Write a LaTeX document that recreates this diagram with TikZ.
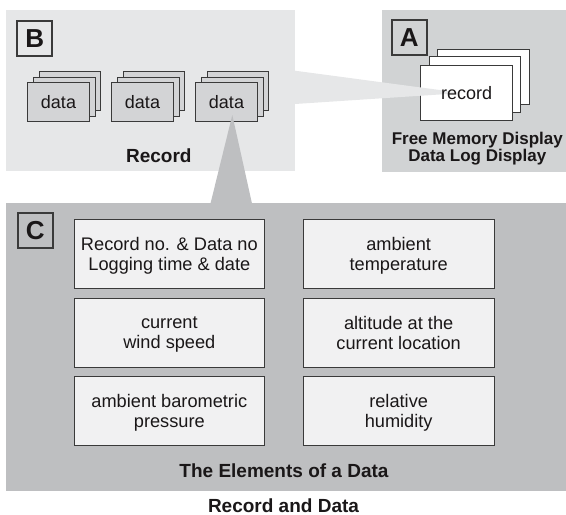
\documentclass[tikz,border=0pt]{standalone}
\usepackage{fontspec}
\setmainfont{Liberation Sans}
\definecolor{cB}{HTML}{E6E7E8}
\definecolor{cA}{HTML}{D1D3D4}
\definecolor{cC}{HTML}{BEBFC1}
\definecolor{cData}{HTML}{D3D4D6}
\definecolor{cEl}{HTML}{F1F1F2}
\definecolor{cLine}{HTML}{3A3A3A}
\definecolor{cText}{HTML}{1A1718}
\begin{document}
\begin{tikzpicture}[x=1pt,y=-1pt,
  every node/.style={inner sep=0pt, outer sep=0pt, text=cText},
  panel/.style={draw=none, anchor=north west},
  letterbox/.style={draw=cLine, line width=1.8pt, anchor=north west,
    minimum width=35pt, minimum height=35pt,
    font=\bfseries\fontsize{26}{28}\selectfont},
  databox/.style={draw=cLine, line width=0.9pt, fill=cData, anchor=north west,
    minimum width=61.6pt, minimum height=39pt,
    font=\fontsize{18}{20}\selectfont},
  recbox/.style={draw=cLine, line width=0.9pt, fill=white, anchor=north west,
    minimum width=91.7pt, minimum height=55.7pt},
  elbox/.style={draw=cLine, line width=0.9pt, fill=cEl, anchor=north west,
    minimum width=190.7pt, minimum height=68.7pt},
  eltext/.style={align=center, font=\fontsize{18.2}{20}\selectfont},
  plain/.style={font=\fontsize{18}{20}\selectfont},
  title/.style={font=\bfseries\fontsize{19}{21}\selectfont},
  subtitle/.style={align=center, font=\bfseries\fontsize{17}{13.5}\selectfont}
]
\useasboundingbox (0,0) rectangle (566,515);

% panels
\node[panel, fill=cB, minimum width=289pt, minimum height=161pt] (pB) at (6,10) {};
\node[panel, fill=cA, minimum width=184pt, minimum height=161.7pt] (pA) at (382,10) {};
\node[panel, fill=cC, minimum width=560pt, minimum height=288.2pt] (pC) at (6,202.5) {};

% letter boxes
\node[letterbox] (lB) at (17.3,20.7) {B};
\node[letterbox] (lA) at (391.7,20.3) {A};
\node[letterbox] (lC) at (17.8,213) {C};

% data stacks in B
\foreach \i/\x in {1/27.7, 2/111.7, 3/195.7} {
  \node[databox] (d\i-c) at (\x+11.4, 71.7) {};
  \node[databox] (d\i-b) at (\x+5.7, 77.2) {};
  \node[databox] (d\i-a) at (\x, 82.7) {data};
}

% record stack in A
\node[recbox] (r-c) at (437.3,49) {};
\node[recbox] (r-b) at (429,56.7) {};
\node[recbox] (r-a) at (420.7,65) {};

% callout from A to B
\coordinate (tipA) at (462,93);
\fill[cB] (pB.east |- 0,70.7) -- (tipA) -- (pB.east |- 0,104) -- cycle;
\node[plain] (rtext) at (r-a.center) {record};

% callout from data to C
\coordinate (tipC) at (232.3,115);
\fill[cC] (tipC) -- (210.5,203.5) -- (252,203.5) -- cycle;

% labels
\node[title] (recB) at (158.8,155.7) {Record};
\node[subtitle] (subA) at (477.3,148.3) {Free Memory Display\\Data Log Display};

% elements of a data
\node[elbox] (e1) at (74,219.3) {};
\node[elbox] (e2) at (303.3,219.3) {};
\node[elbox] (e3) at (74,298.3) {};
\node[elbox] (e4) at (303.3,298.3) {};
\node[elbox] (e5) at (74,376.7) {};
\node[elbox] (e6) at (303.3,376.7) {};

\node[eltext] (t1) at ([yshift=-1.9pt]e1.center) {\vphantom{Ag}Record no. \& Data no\\\vphantom{Ag}Logging time \& date};
\node[eltext] (t2) at ([yshift=-1.9pt]e2.center) {\vphantom{Ag}ambient\\\vphantom{Ag}temperature};
\node[eltext] (t3) at ([yshift=-1.9pt]e3.center) {\vphantom{Ag}current\\\vphantom{Ag}wind speed};
\node[eltext] (t4) at ([yshift=-1.9pt]e4.center) {\vphantom{Ag}altitude at the\\\vphantom{Ag}current location};
\node[eltext] (t5) at ([yshift=-1.9pt]e5.center) {\vphantom{Ag}ambient barometric\\\vphantom{Ag}pressure};
\node[eltext] (t6) at ([yshift=-1.9pt]e6.center) {\vphantom{Ag}relative\\\vphantom{Ag}humidity};

\node[title] (elC) at (284,470.7) {The Elements of a Data};
\node[title] (main) at (283.5,505.3) {Record and Data};
\end{tikzpicture}
\end{document}
